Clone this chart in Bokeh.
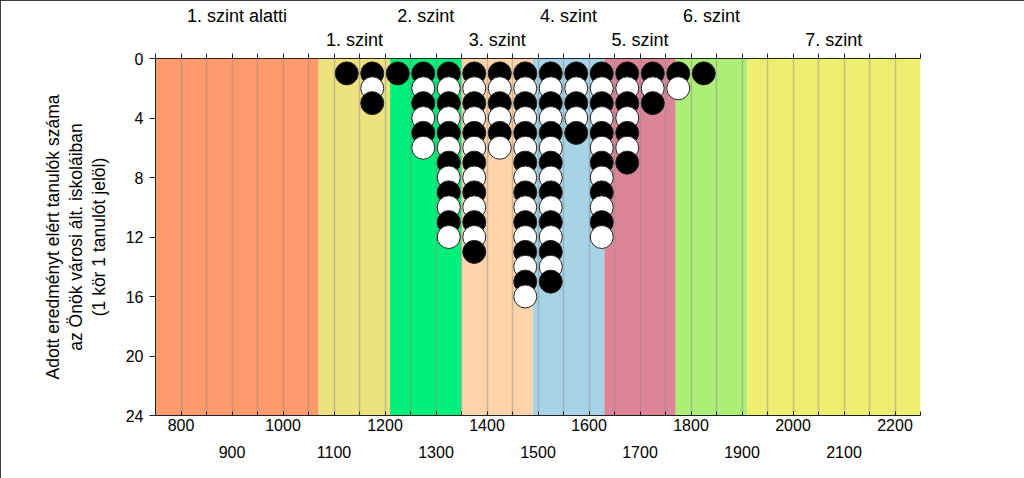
from bokeh.plotting import figure
from bokeh.models import Range1d, FixedTicker, LinearAxis, BoxAnnotation, ColumnDataSource
from bokeh.embed import file_html
from bokeh.resources import INLINE

# ---- data ----
x_min, x_max = 750, 2250
level_names = ["1. szint alatti", "1. szint", "2. szint", "3. szint",
               "4. szint", "5. szint", "6. szint", "7. szint"]
level_edges = [750, 1070, 1210, 1350, 1490, 1630, 1770, 1910, 2250]
level_colors = ["#FF9A6C", "#ECE27E", "#00F07A", "#FFD4AA",
                "#A6D4E6", "#DC8599", "#ADEE77", "#EEEE72"]
score_bins = [1125, 1175, 1225, 1275, 1325, 1375, 1425, 1475,
              1525, 1575, 1625, 1675, 1725, 1775, 1825]
student_counts = [1, 3, 1, 6, 12, 13, 6, 16, 15, 5, 12, 7, 3, 2, 1]
y_ticks = [0, 4, 8, 12, 16, 20, 24]
bottom_labels_row1 = [800, 1000, 1200, 1400, 1600, 1800, 2000, 2200]
bottom_labels_row2 = [900, 1100, 1300, 1500, 1700, 1900, 2100]
grid_step = 50
y_label = "Adott eredményt elért tanulók száma\naz Önök városi ált. iskoláiban\n(1 kör 1 tanulót jelöl)"

FONT = "Liberation Sans"

# ---- derived ----
grid_ticks = list(range(x_min, x_max + 1, grid_step))
level_centers = [(a + b) / 2 for a, b in zip(level_edges[:-1], level_edges[1:])]

xs, ys, fills = [], [], []
for xb, n in zip(score_bins, student_counts):
    for k in range(1, n + 1):
        xs.append(xb)
        ys.append(k)
        fills.append("black" if k % 2 == 1 else "white")
src = ColumnDataSource(dict(x=xs, y=ys, fill=fills))

p = figure(width=1024, height=478, output_backend="svg", toolbar_location=None,
           x_range=Range1d(x_min, x_max), y_range=Range1d(24, 0),
           min_border_left=155, min_border_right=104, min_border_top=58,
           min_border_bottom=63)
p.outline_line_color = None
p.background_fill_color = "white"
p.styles = {"outline": "2px solid black", "outline-offset": "-2px"}

# level bands
for a, b, c in zip(level_edges[:-1], level_edges[1:], level_colors):
    p.add_layout(BoxAnnotation(left=a, right=b, fill_color=c, fill_alpha=1.0,
                               line_alpha=0, level="image"))

# grid
p.ygrid.visible = False
p.xgrid.ticker = FixedTicker(ticks=grid_ticks)
p.xgrid.grid_line_color = "#8a8a8a"
p.xgrid.grid_line_alpha = 0.45
p.xgrid.grid_line_width = 1.5
p.xgrid.level = "underlay"

# dots
p.scatter("x", "y", source=src, size=23, fill_color="fill",
          line_color="#222222", line_width=1)

# y axis
yax = p.yaxis[0]
yax.ticker = FixedTicker(ticks=y_ticks)
yax.axis_label = y_label
yax.axis_label_text_font = FONT
yax.axis_label_text_font_size = "17.5px"
yax.axis_label_text_font_style = "normal"
yax.axis_label_text_color = "black"
yax.axis_label_text_line_height = 1.15
yax.axis_label_standoff = 14
yax.major_label_text_font = FONT
yax.major_label_text_font_size = "16px"
yax.major_label_text_color = "black"
yax.major_tick_out = 6
yax.major_tick_in = 0
yax.minor_tick_line_color = None
yax.axis_line_color = "#222222"
yax.major_tick_line_color = "#222222"
yax.major_label_standoff = 6

# bottom axis row 1
xax = p.xaxis[0]
xax.ticker = FixedTicker(ticks=bottom_labels_row1, minor_ticks=grid_ticks)
xax.major_label_text_font = FONT
xax.major_label_text_font_size = "16px"
xax.major_label_text_color = "black"
xax.major_tick_in = 4
xax.major_tick_out = 0
xax.minor_tick_in = 4
xax.minor_tick_out = 0
xax.axis_line_color = "#222222"
xax.major_tick_line_color = "#222222"
xax.minor_tick_line_color = "#222222"
xax.major_label_standoff = 3

# bottom axis row 2
xax2 = LinearAxis(ticker=FixedTicker(ticks=bottom_labels_row2))
xax2.axis_line_color = None
xax2.major_tick_line_color = None
xax2.minor_tick_line_color = None
xax2.major_label_text_font = FONT
xax2.major_label_text_font_size = "16px"
xax2.major_label_text_color = "black"
xax2.major_label_standoff = 6
p.add_layout(xax2, "below")

# top axis inner: ticks + row-2 level labels
row2_idx = [1, 3, 5, 7]
row1_idx = [0, 2, 4, 6]
top1 = LinearAxis(ticker=FixedTicker(ticks=[level_centers[i] for i in row2_idx],
                                     minor_ticks=grid_ticks))
top1.major_label_overrides = {level_centers[i]: level_names[i] for i in row2_idx}
top1.major_tick_out = 0
top1.major_tick_in = 0
top1.minor_tick_out = 5
top1.minor_tick_in = 0
top1.axis_line_color = "#222222"
top1.minor_tick_line_color = "#222222"
top1.major_label_text_font = FONT
top1.major_label_text_font_size = "18px"
top1.major_label_text_color = "black"
top1.major_label_standoff = 4
p.add_layout(top1, "above")

top2 = LinearAxis(ticker=FixedTicker(ticks=[level_centers[i] for i in row1_idx]))
top2.major_label_overrides = {level_centers[i]: level_names[i] for i in row1_idx}
top2.axis_line_color = None
top2.major_tick_line_color = None
top2.minor_tick_line_color = None
top2.major_label_text_font = FONT
top2.major_label_text_font_size = "18px"
top2.major_label_text_color = "black"
top2.major_label_standoff = -5
p.add_layout(top2, "above")

open("out.html", "w").write(file_html(p, INLINE))
